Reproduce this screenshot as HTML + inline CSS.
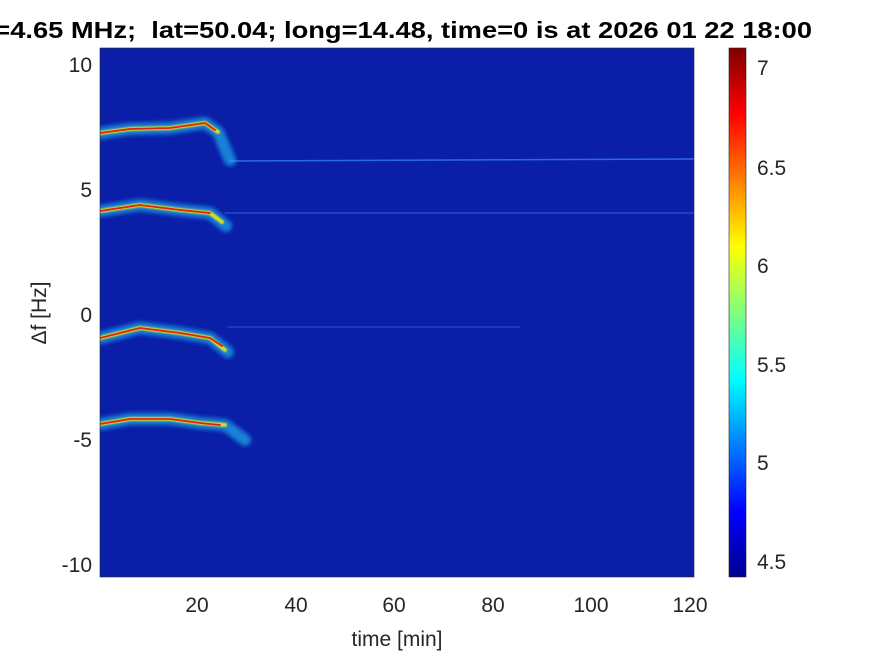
<!DOCTYPE html>
<html><head><meta charset="utf-8"><style>body{margin:0;background:#fff}svg{display:block}</style></head><body>
<svg width="875" height="656" xmlns="http://www.w3.org/2000/svg" font-family="Liberation Sans, Arial, sans-serif">
<defs>
<linearGradient id="jet" x1="0" y1="1" x2="0" y2="0">
<stop offset="0" stop-color="#00008f"/><stop offset="0.125" stop-color="#0000ff"/><stop offset="0.375" stop-color="#00ffff"/><stop offset="0.625" stop-color="#ffff00"/><stop offset="0.875" stop-color="#ff0000"/><stop offset="1" stop-color="#800000"/>
</linearGradient>
<filter id="b2"><feGaussianBlur stdDeviation="2"/></filter>
<filter id="b1"><feGaussianBlur stdDeviation="0.8"/></filter>
<clipPath id="cp"><rect x="100" y="48" width="594" height="529"/></clipPath>
</defs>
<text x="-30" y="38" font-size="23" font-weight="bold" textLength="842" lengthAdjust="spacingAndGlyphs" style="white-space:pre">fc=4.65 MHz;  lat=50.04; long=14.48, time=0 is at 2026 01 22 18:00</text>
<rect x="100" y="48" width="594" height="529" fill="#0a1ea8"/>
<g clip-path="url(#cp)" fill="none" stroke-linecap="round" stroke-linejoin="round">
<g stroke="#3c8cff" stroke-width="1.5" opacity="0.7">
<path d="M230 161 L694 159"/><path d="M225 213 L694 213" opacity="0.6"/><path d="M228 327 L520 327" opacity="0.5"/>
</g>
<g filter="url(#b2)" stroke="#20b8f0" stroke-width="12" opacity="0.65">
<path d="M100 133 L130 129 L170 128 L205 123 L218 132 L230 160"/>
<path d="M100 211 L140 205 L180 210 L210 213 L226 226"/>
<path d="M100 338 L140 328 L180 333 L210 338 L228 352"/>
<path d="M100 424 L130 419 L170 419 L200 423 L225 425 L245 440"/>
</g>
<g filter="url(#b1)" stroke="#d8e020" stroke-width="4">
<path d="M100 133 L130 129 L170 128 L205 123 L218 132"/>
<path d="M100 211 L140 205 L180 210 L210 213 L222 222"/>
<path d="M100 338 L140 328 L180 333 L210 338 L225 350"/>
<path d="M100 424 L130 419 L170 419 L200 423 L225 425"/>
</g>
<g stroke="#e02010" stroke-width="1.8">
<path d="M100 133 L130 129 L170 128 L205 123 L215 130"/>
<path d="M100 211 L140 205 L180 210 L210 213"/>
<path d="M100 338 L140 328 L180 333 L210 338 L222 346"/>
<path d="M100 424 L130 419 L170 419 L200 423 L220 425"/>
</g>
</g>
<rect x="100" y="48" width="594" height="529" fill="none" stroke="#262626" stroke-width="0.6"/>
<g font-size="21" fill="#262626" text-anchor="end">
<text x="92" y="72">10</text><text x="92" y="197">5</text><text x="92" y="322">0</text><text x="92" y="447">-5</text><text x="92" y="572">-10</text>
</g>
<g font-size="21" fill="#262626" text-anchor="middle">
<text x="197" y="612">20</text><text x="296" y="612">40</text><text x="394" y="612">60</text><text x="493" y="612">80</text><text x="591" y="612">100</text><text x="690" y="612">120</text>
<text x="397" y="646">time [min]</text>
<text transform="translate(46,313) rotate(-90)">Δf [Hz]</text>
</g>
<rect x="729" y="48" width="17" height="529" fill="url(#jet)" stroke="#262626" stroke-width="0.6"/>
<g font-size="21" fill="#262626">
<text x="757" y="75">7</text><text x="757" y="175">6.5</text><text x="757" y="273">6</text><text x="757" y="372">5.5</text><text x="757" y="470">5</text><text x="757" y="569">4.5</text>
</g>
</svg>
</body></html>
